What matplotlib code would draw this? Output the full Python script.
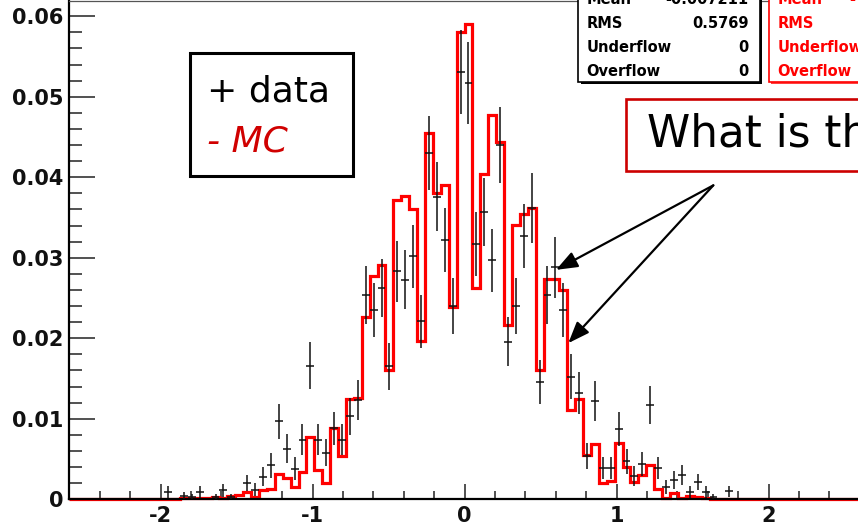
import numpy as np
import matplotlib
matplotlib.use("Agg")
import matplotlib.pyplot as plt
from matplotlib.patches import Rectangle, FancyArrowPatch
from matplotlib.ticker import MultipleLocator

plt.rcParams['axes.unicode_minus'] = False
plt.rcParams['font.family'] = ['DejaVu Sans']

# Histogram binning: 100 bins on [-2.6, 2.6]
n_bins = 100
x_low, x_high = -2.6, 2.6

# Data histogram (bin contents and errors), bins 0..99
data_values = [0.0] * 12 + [
    0.0009, 0.0, 0.0004, 0.0003, 0.0009, 0.0, 0.0003, 0.0011, 0.0003, 0.0,
    0.0020, 0.0012, 0.0028, 0.0042, 0.0097, 0.0063, 0.0038, 0.0074, 0.0166, 0.0074,
    0.0058, 0.0088, 0.0074, 0.0103, 0.0123, 0.0254, 0.0235, 0.0263, 0.0165, 0.0283,
    0.0273, 0.0302, 0.0221, 0.0430, 0.0376, 0.0322, 0.0240, 0.0531, 0.0517, 0.0317,
    0.0357, 0.0297, 0.0440, 0.0196, 0.0240, 0.0327, 0.0362, 0.0146, 0.0254, 0.0288,
    0.0235, 0.0152, 0.0132, 0.0054, 0.0122, 0.0039, 0.0039, 0.0087, 0.0047, 0.0029,
    0.0044, 0.0117, 0.0039, 0.0015, 0.0024, 0.0030, 0.0009, 0.0021, 0.0009, 0.0003,
    0.0, 0.0010] + [0.0] * 16

data_errors = [0.0] * 12 + [
    0.0008, 0.0, 0.0005, 0.0004, 0.0008, 0.0, 0.0004, 0.0008, 0.0004, 0.0,
    0.0010, 0.0008, 0.0012, 0.0015, 0.0022, 0.0018, 0.0014, 0.0019, 0.0029, 0.0019,
    0.0017, 0.0021, 0.0019, 0.0023, 0.0025, 0.0036, 0.0034, 0.0036, 0.0029, 0.0038,
    0.0037, 0.0039, 0.0033, 0.0046, 0.0043, 0.0040, 0.0035, 0.0052, 0.0051, 0.0040,
    0.0042, 0.0039, 0.0047, 0.0031, 0.0035, 0.0040, 0.0043, 0.0027, 0.0036, 0.0038,
    0.0034, 0.0028, 0.0026, 0.0016, 0.0025, 0.0014, 0.0014, 0.0021, 0.0015, 0.0012,
    0.0015, 0.0024, 0.0014, 0.0009, 0.0011, 0.0012, 0.0007, 0.0010, 0.0007, 0.0004,
    0.0, 0.0007] + [0.0] * 16

# Monte Carlo histogram, bins 0..99
mc_values = [0.0] * 14 + [
    0.0001, 0.0002, 0.0001, 0.0001, 0.0003, 0.0002, 0.0004, 0.0005, 0.0009, 0.0003,
    0.0012, 0.0013, 0.0032, 0.0027, 0.0015, 0.0034, 0.0077, 0.0036, 0.0020, 0.0088,
    0.0054, 0.0125, 0.0126, 0.0226, 0.0278, 0.0291, 0.0161, 0.0372, 0.0377, 0.0361,
    0.0197, 0.0455, 0.0380, 0.0390, 0.0239, 0.0580, 0.0591, 0.0262, 0.0404, 0.0477,
    0.0444, 0.0216, 0.0341, 0.0354, 0.0362, 0.0161, 0.0274, 0.0274, 0.0260, 0.0111,
    0.0125, 0.0055, 0.0069, 0.0020, 0.0023, 0.0070, 0.0040, 0.0021, 0.0030, 0.0043,
    0.0013, 0.0002, 0.0008, 0.0002, 0.0004, 0.0003, 0.0002] + [0.0] * 19

x_ticks = [-2, -1, 0, 1, 2]
x_tick_labels = ["-2", "-1", "0", "1", "2"]
y_ticks = [0.0, 0.01, 0.02, 0.03, 0.04, 0.05, 0.06]
y_tick_labels = ["0", "0.01", "0.02", "0.03", "0.04", "0.05", "0.06"]
y_top = 0.0619

data_stats = [("Mean", "-0.007211"), ("RMS", "0.5769"),
              ("Underflow", "0"), ("Overflow", "0")]
mc_stat_labels = ["Mean", "RMS", "Underflow", "Overflow"]
mc_mean_visible = "-"

legend_data = "+ data"
legend_mc = "- MC"
question = "What is th"

# arrows: common tail, two heads pointing at the MC shoulder
arrow_tail = (1.637, 0.0390)
arrow_heads = [(0.602, 0.0285), (0.683, 0.0194)]

W, H = 858, 529
fig = plt.figure(figsize=(W / 100, H / 100), dpi=100)
fig.patch.set_facecolor("white")


def fx(px):
    return px / W


def fy(py):
    return 1 - py / H


ax_left, ax_right, ax_top, ax_bottom = 69.3, 859.7, 1.0, 499.3
ax = fig.add_axes([fx(ax_left), fy(ax_bottom),
                   fx(ax_right) - fx(ax_left), fy(ax_top) - fy(ax_bottom)])

edges = np.linspace(x_low, x_high, n_bins + 1)
centers = 0.5 * (edges[:-1] + edges[1:])
half_width = 0.5 * (edges[1] - edges[0])

data_arr = np.array(data_values)
err_arr = np.array(data_errors)
mc_arr = np.array(mc_values)

ax.stairs(mc_arr, edges, color="#ff0000", linewidth=2.3, zorder=2.4,
          clip_on=False)

mask = data_arr > 0
ax.errorbar(centers[mask], data_arr[mask], xerr=half_width, yerr=err_arr[mask],
            fmt="none", ecolor="#111111", elinewidth=1.1, capsize=0, zorder=3)

ax.set_xlim(x_low, x_high)
ax.set_ylim(0, y_top)

ax.set_xticks(x_ticks)
ax.set_xticklabels(x_tick_labels)
ax.set_yticks(y_ticks)
ax.set_yticklabels(y_tick_labels)
ax.xaxis.set_minor_locator(MultipleLocator(0.2))
ax.yaxis.set_minor_locator(MultipleLocator(0.002))

ax.tick_params(axis="x", which="major", direction="in", length=10.8,
               width=1.1, color="#222222", pad=5, labelsize=15)
ax.tick_params(axis="x", which="minor", direction="in", length=5.8,
               width=1.1, color="#222222")
ax.tick_params(axis="y", which="major", direction="in", length=18.7,
               width=1.1, color="#222222", pad=4.3, labelsize=15)
ax.tick_params(axis="y", which="minor", direction="in", length=9.4,
               width=1.1, color="#222222")
for lab in ax.get_xticklabels() + ax.get_yticklabels():
    lab.set_fontweight("bold")
    lab.set_color("#111111")

for side in ["left", "bottom"]:
    ax.spines[side].set_linewidth(1.6)
    ax.spines[side].set_color("black")
ax.spines["top"].set_linewidth(0.9)
ax.spines["top"].set_color("#555555")
ax.spines["right"].set_linewidth(1.6)

# statistics boxes
row_y = [-0.6, 23.3, 47.6, 71.0]
stat_fs = 10.5

box_l, box_r, box_b = 578.3, 760.0, 81.7
fig.patches.append(Rectangle((fx(box_l + 2.2), fy(box_b + 2.2)),
                             fx(box_r) - fx(box_l), fy(-40) - fy(box_b),
                             transform=fig.transFigure, facecolor="black",
                             edgecolor="none", zorder=5))
fig.patches.append(Rectangle((fx(box_l), fy(box_b)),
                             fx(box_r) - fx(box_l), fy(-40) - fy(box_b),
                             transform=fig.transFigure, facecolor="white",
                             edgecolor="black", linewidth=1.2, zorder=6))
for (name, val), yy in zip(data_stats, row_y):
    fig.text(fx(586.7), fy(yy), name, fontsize=stat_fs, fontweight="bold",
             ha="left", va="center", color="black", zorder=7)
    fig.text(fx(748.3), fy(yy), val, fontsize=stat_fs, fontweight="bold",
             ha="right", va="center", color="black", zorder=7)

rbox_l, rbox_r = 769.3, 960.0
fig.patches.append(Rectangle((fx(rbox_l + 2.0), fy(box_b + 2.0)),
                             fx(rbox_r) - fx(rbox_l), fy(-40) - fy(box_b),
                             transform=fig.transFigure, facecolor="#ff4040",
                             edgecolor="none", zorder=5))
fig.patches.append(Rectangle((fx(rbox_l), fy(box_b)),
                             fx(rbox_r) - fx(rbox_l), fy(-40) - fy(box_b),
                             transform=fig.transFigure, facecolor="white",
                             edgecolor="#ff0000", linewidth=1.2, zorder=6))
for name, yy in zip(mc_stat_labels, row_y):
    fig.text(fx(777.3), fy(yy), name, fontsize=stat_fs, fontweight="bold",
             ha="left", va="center", color="#ff0000", zorder=7)
fig.text(fx(849), fy(row_y[0]), mc_mean_visible, fontsize=stat_fs,
         fontweight="bold", ha="left", va="center", color="#ff0000", zorder=7)

# legend-like label box
fig.patches.append(Rectangle((fx(190), fy(175.7)), fx(352.7) - fx(190),
                             fy(53.3) - fy(175.7), transform=fig.transFigure,
                             facecolor="white", edgecolor="black",
                             linewidth=2.2, zorder=5))
fig.text(fx(207), fy(91), legend_data, fontsize=26, ha="left", va="center",
         color="black", zorder=7)
fig.text(fx(207), fy(142), legend_mc, fontsize=26, ha="left", va="center",
         color="#d00000", style="italic", zorder=7)

# question box
fig.patches.append(Rectangle((fx(625.7), fy(171)), fx(920) - fx(625.7),
                             fy(99) - fy(171), transform=fig.transFigure,
                             facecolor="white", edgecolor="#cc0000",
                             linewidth=1.9, zorder=5))
fig.text(fx(647.3), fy(134), question, fontsize=31.5, ha="left", va="center",
         color="black", zorder=7)

# arrows
for head in arrow_heads:
    arr = FancyArrowPatch(arrow_tail, head,
                          arrowstyle="-|>,head_length=0.65,head_width=0.25",
                          mutation_scale=20, color="black", linewidth=1.6,
                          shrinkA=0, shrinkB=0, clip_on=False, zorder=6)
    ax.add_patch(arr)

fig.savefig("out.png", dpi=100)
